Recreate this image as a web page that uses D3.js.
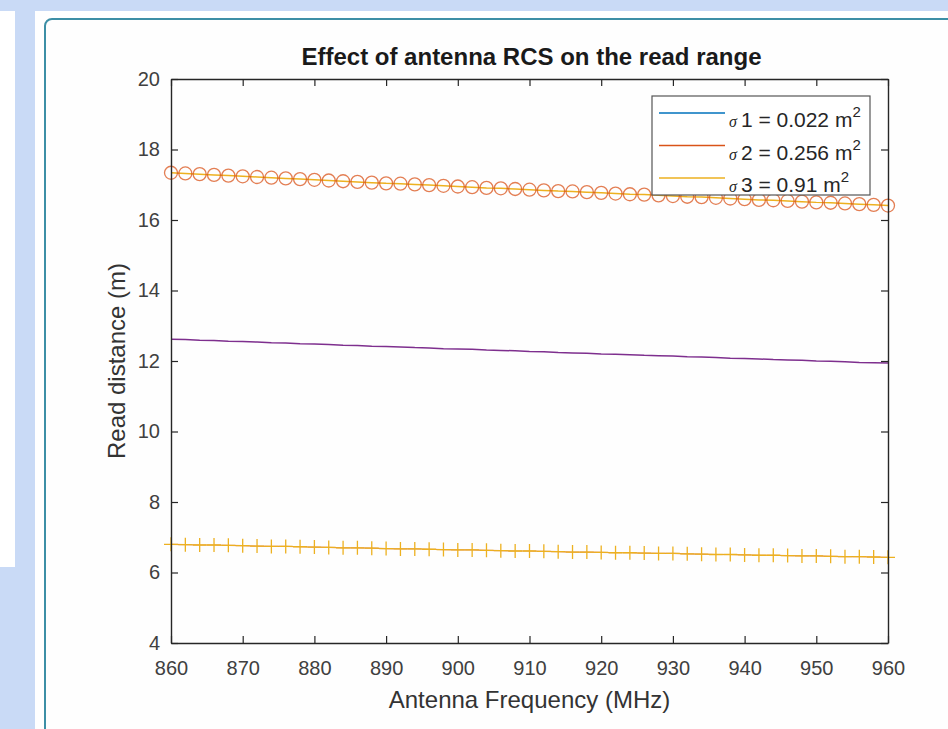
<!DOCTYPE html>
<html>
<head>
<meta charset="utf-8">
<script src="https://cdn.jsdelivr.net/npm/d3@7"></script>
<style>
  html, body { margin: 0; padding: 0; background: #c9daf6; overflow: hidden; }
  #container { width: 948px; height: 729px; }
  svg { display: block; }
  text { font-family: "Liberation Sans", Arial, sans-serif; }
</style>
</head>
<body>
<div id="container"></div>
<script>
// data
const frequencies = [860, 862, 864, 866, 868, 870, 872, 874, 876, 878, 880,
  882, 884, 886, 888, 890, 892, 894, 896, 898, 900,
  902, 904, 906, 908, 910, 912, 914, 916, 918, 920,
  922, 924, 926, 928, 930, 932, 934, 936, 938, 940,
  942, 944, 946, 948, 950, 952, 954, 956, 958, 960];
const readSigma1 = [12.62, 12.61, 12.59, 12.58, 12.56, 12.55, 12.54, 12.52, 12.51, 12.49, 12.48,
  12.47, 12.45, 12.44, 12.42, 12.41, 12.40, 12.38, 12.37, 12.35, 12.34,
  12.33, 12.31, 12.30, 12.29, 12.27, 12.26, 12.24, 12.23, 12.22, 12.20,
  12.19, 12.18, 12.16, 12.15, 12.14, 12.12, 12.11, 12.10, 12.08, 12.07,
  12.06, 12.04, 12.03, 12.02, 12.00, 11.99, 11.98, 11.96, 11.95, 11.94];
const readSigma2 = [17.34, 17.32, 17.30, 17.28, 17.26, 17.24, 17.22, 17.20, 17.18, 17.16, 17.14,
  17.12, 17.10, 17.08, 17.06, 17.04, 17.03, 17.01, 16.99, 16.97, 16.95,
  16.93, 16.91, 16.90, 16.88, 16.86, 16.84, 16.82, 16.81, 16.79, 16.77,
  16.75, 16.73, 16.72, 16.70, 16.68, 16.66, 16.65, 16.63, 16.61, 16.59,
  16.57, 16.56, 16.54, 16.52, 16.50, 16.49, 16.47, 16.45, 16.43, 16.41];
const readSigma3 = [6.80, 6.79, 6.78, 6.78, 6.77, 6.76, 6.75, 6.74, 6.74, 6.73, 6.72,
  6.71, 6.70, 6.70, 6.69, 6.68, 6.67, 6.67, 6.66, 6.65, 6.64,
  6.64, 6.63, 6.62, 6.61, 6.61, 6.60, 6.59, 6.58, 6.58, 6.57,
  6.56, 6.56, 6.55, 6.54, 6.54, 6.53, 6.52, 6.51, 6.51, 6.50,
  6.49, 6.49, 6.48, 6.47, 6.47, 6.46, 6.45, 6.45, 6.44, 6.43];
const xTicks = [860, 870, 880, 890, 900, 910, 920, 930, 940, 950, 960];
const yTicks = [4, 6, 8, 10, 12, 14, 16, 18, 20];
const legendLabels = ["1 = 0.022 m", "2 = 0.256 m", "3 = 0.91 m"];
const legendColors = ["#0072BD", "#D95319", "#EDB120"];

const width = 948;
const height = 729;

const svg = d3.select("#container")
  .append("svg")
  .attr("width", width)
  .attr("height", height);

// page background pieces
svg.append("rect").attr("x", 0).attr("y", 0).attr("width", width).attr("height", height).attr("fill", "#c9daf6");
svg.append("rect").attr("x", 0).attr("y", 11).attr("width", 15).attr("height", 556).attr("fill", "#ffffff");
svg.append("rect").attr("x", 35).attr("y", 11).attr("width", width - 35).attr("height", height - 11).attr("fill", "#ffffff");
svg.append("rect").attr("x", 45).attr("y", 19).attr("width", width - 45).attr("height", height - 19).attr("fill", "#fefefe");
// panel border: only its top-left rounded corner is inside the picture
svg.append("path")
  .attr("d", `M45,${height} V26 A7,7 0 0 1 52,19 H${width}`)
  .attr("fill", "none")
  .attr("stroke", "#3d8fa6")
  .attr("stroke-width", 2);

// layout
const margin = { top: 79, right: 60, bottom: 86, left: 171 };
const innerWidth = width - margin.left - margin.right;   // 717
const innerHeight = height - margin.top - margin.bottom; // 564

const scaleX = d3.scaleLinear().domain([860, 960]).range([0, innerWidth]);
const scaleY = d3.scaleLinear().domain([4, 20]).range([innerHeight, 0]);

const root = svg.append("g")
  .attr("transform", `translate(${margin.left}, ${margin.top})`);
const groupMain = root.append("g").attr("class", "groupMarks");
const groupAxes = root.append("g").attr("class", "groupAxes");
const groupLegend = root.append("g").attr("class", "groupLegend");

const idx = frequencies.map((d, i) => i);
const line = values => d3.line()
  .x(i => scaleX(frequencies[i]))
  .y(i => scaleY(values[i]))(idx);

// sigma 1 (drawn purple in the figure)
groupMain.append("path")
  .attr("d", line(readSigma1))
  .attr("fill", "none")
  .attr("stroke", "#7E2F8E")
  .attr("stroke-width", 1.5);

// sigma 2 : circles with a line through them
groupMain.append("path")
  .attr("d", line(readSigma2))
  .attr("fill", "none")
  .attr("stroke", "#EDB120")
  .attr("stroke-width", 1.5);
groupMain.selectAll("circle")
  .data(idx)
  .join("circle")
  .attr("cx", i => scaleX(frequencies[i]))
  .attr("cy", i => scaleY(readSigma2[i]))
  .attr("r", 6.5)
  .attr("fill", "none")
  .attr("stroke", "#D95319")
  .attr("stroke-opacity", 0.75)
  .attr("stroke-width", 1.3);

// sigma 3 : plus markers
groupMain.append("path")
  .attr("d", line(readSigma3))
  .attr("fill", "none")
  .attr("stroke", "#e08a50")
  .attr("stroke-width", 1.2);
groupMain.selectAll("path.plus")
  .data(idx)
  .join("path")
  .attr("class", "plus")
  .attr("transform", i => `translate(${scaleX(frequencies[i])}, ${scaleY(readSigma3[i])})`)
  .attr("d", "M-7,0H7M0,-7V7")
  .attr("fill", "none")
  .attr("stroke", "#EDB120")
  .attr("stroke-width", 1.3);

// axes
const styleAxis = g => {
  g.attr("font-family", null).attr("font-size", null);
  g.select(".domain").attr("stroke", "#262626").attr("stroke-width", 1.4);
  g.selectAll(".tick line").attr("stroke", "#262626").attr("stroke-width", 1.2);
  g.selectAll(".tick text")
    .attr("fill", "#404040")
    .style("font-size", "20px")
    .style("font-family", "'Liberation Sans', Arial, sans-serif");
};
const noLabels = g => g.selectAll(".tick text").remove();

groupAxes.append("g")
  .attr("transform", `translate(0, ${innerHeight})`)
  .call(d3.axisBottom(scaleX).tickValues(xTicks).tickSizeInner(-7).tickSizeOuter(0).tickPadding(18))
  .call(styleAxis);
groupAxes.append("g")
  .call(d3.axisTop(scaleX).tickValues(xTicks).tickSizeInner(-7).tickSizeOuter(0))
  .call(styleAxis)
  .call(noLabels);
groupAxes.append("g")
  .call(d3.axisLeft(scaleY).tickValues(yTicks).tickSizeInner(-7).tickSizeOuter(0).tickPadding(11))
  .call(styleAxis);
groupAxes.append("g")
  .attr("transform", `translate(${innerWidth}, 0)`)
  .call(d3.axisRight(scaleY).tickValues(yTicks).tickSizeInner(-7).tickSizeOuter(0))
  .call(styleAxis)
  .call(noLabels);

// titles
root.append("text")
  .attr("x", innerWidth / 2 + 2)
  .attr("y", -14)
  .attr("text-anchor", "middle")
  .attr("fill", "#1a1a1a")
  .style("font-size", "24px")
  .style("font-weight", "bold")
  .text("Effect of antenna RCS on the read range");
root.append("text")
  .attr("x", innerWidth / 2)
  .attr("y", innerHeight + 65)
  .attr("text-anchor", "middle")
  .attr("fill", "#333")
  .style("font-size", "24px")
  .text("Antenna Frequency (MHz)");
root.append("text")
  .attr("transform", `translate(-46, ${innerHeight / 2}) rotate(-90)`)
  .attr("text-anchor", "middle")
  .attr("fill", "#333")
  .style("font-size", "24px")
  .text("Read distance (m)");

// legend
const legendX = 652 - margin.left;
const legendY = 96 - margin.top;
groupLegend.append("rect")
  .attr("x", legendX)
  .attr("y", legendY)
  .attr("width", 218)
  .attr("height", 99)
  .attr("fill", "#ffffff")
  .attr("stroke", "#555")
  .attr("stroke-width", 1.2);
const rows = groupLegend.selectAll("g.row")
  .data(legendLabels)
  .join("g")
  .attr("class", "row")
  .attr("transform", (d, i) => `translate(${legendX}, ${legendY + 17 + i * 32.5})`);
rows.append("line")
  .attr("x1", 7).attr("x2", 73)
  .attr("y1", 0).attr("y2", 0)
  .attr("stroke", (d, i) => legendColors[i])
  .attr("stroke-width", 1.5);
const rowText = rows.append("text")
  .attr("x", 77)
  .attr("y", 14)
  .attr("fill", "#262626")
  .style("font-size", "21px");
rowText.append("tspan")
  .style("font-size", "16px")
  .style("font-style", "italic")
  .style("font-family", "'Liberation Serif', serif")
  .text("σ ");
rowText.append("tspan").text(d => d);
rowText.append("tspan")
  .attr("dy", -10)
  .style("font-size", "15px")
  .text("2");
</script>
</body>
</html>
